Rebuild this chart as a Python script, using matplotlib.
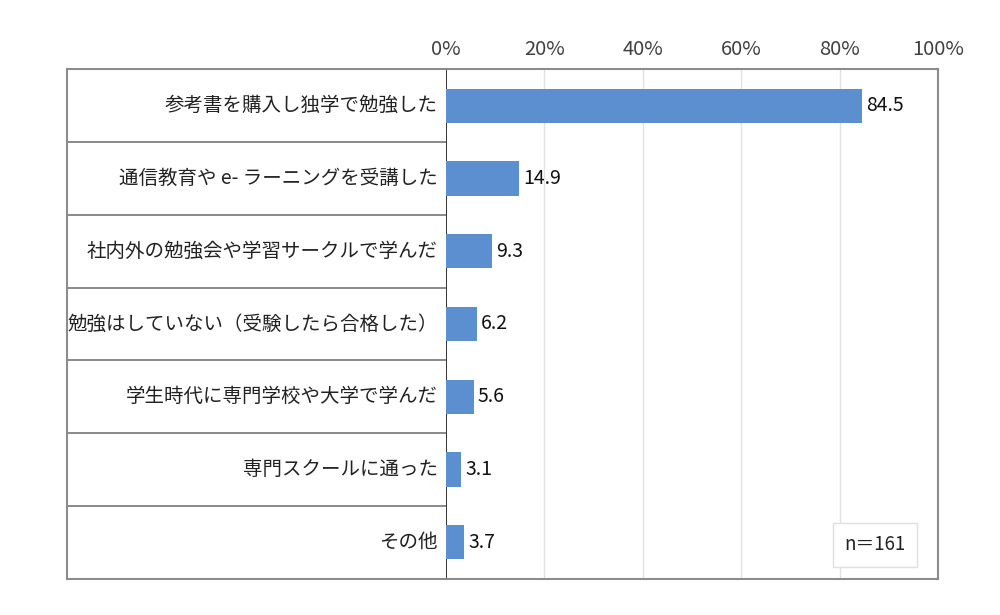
import matplotlib
matplotlib.use("Agg")
import matplotlib.pyplot as plt
import numpy as np

plt.rcParams['font.family'] = ['Noto Sans CJK JP', 'DejaVu Sans']

labels = ['参考書を購入し独学で勉強した',
          '通信教育や e- ラーニングを受講した',
          '社内外の勉強会や学習サークルで学んだ',
          '勉強はしていない（受験したら合格した）',
          '学生時代に専門学校や大学で学んだ',
          '専門スクールに通った',
          'その他']
values = [84.5, 14.9, 9.3, 6.2, 5.6, 3.1, 3.7]
xticks = [0, 20, 40, 60, 80, 100]
n_text = 'n＝161'

fig = plt.figure(figsize=(10, 6.15), dpi=100)
left, right = 0.067, 0.446
x1 = 0.938
bot, top = 1 - 578.6 / 615, 1 - 69.3 / 615

ax = fig.add_axes([right, bot, x1 - right, top - bot])
lab = fig.add_axes([left, bot, right - left, top - bot])

y = np.arange(len(labels))
ax.barh(y, values, height=0.47, color='#5B8FD0', zorder=3)
for yi, v in zip(y, values):
    ax.text(v + 0.8, yi, str(v), va='center', ha='left', fontsize=14, color='#111111')

ax.set_xlim(0, 100)
ax.set_ylim(len(labels) - 0.5, -0.5)
ax.set_xticks(xticks)
ax.set_xticklabels([f'{t}%' for t in xticks])
ax.xaxis.tick_top()
ax.tick_params(axis='x', length=0, pad=7, labelsize=14.5, labelcolor='#404040')
ax.set_yticks([])
for t in xticks[1:-1]:
    ax.axvline(t, color='#E2E2E2', lw=1, zorder=1)
ax.spines['left'].set_color('#111111')
ax.spines['left'].set_linewidth(1.2)
for s in ['top', 'right', 'bottom']:
    ax.spines[s].set_color('#8C8C8C')
    ax.spines[s].set_linewidth(1.5)

ax.text(0.872, 0.066, n_text, transform=ax.transAxes, ha='center', va='center',
        fontsize=13.5, color='#222222',
        bbox=dict(boxstyle='square,pad=0.6', facecolor='white', edgecolor='#E0E0E0', lw=1))

# label column
lab.set_xlim(0, 1)
lab.set_ylim(len(labels) - 0.5, -0.5)
lab.set_xticks([])
lab.set_yticks([])
for s in ['left', 'top', 'bottom']:
    lab.spines[s].set_color('#8C8C8C')
    lab.spines[s].set_linewidth(1.5)
lab.spines['right'].set_visible(False)
for b in np.arange(0.5, len(labels) - 0.5, 1):
    lab.axhline(b, color='#808080', lw=1.3)
for yi, name in zip(y, labels):
    lab.text(0.978, yi, name, ha='right', va='center', fontsize=14, color='#222222')

fig.savefig('out.png', dpi=100)
